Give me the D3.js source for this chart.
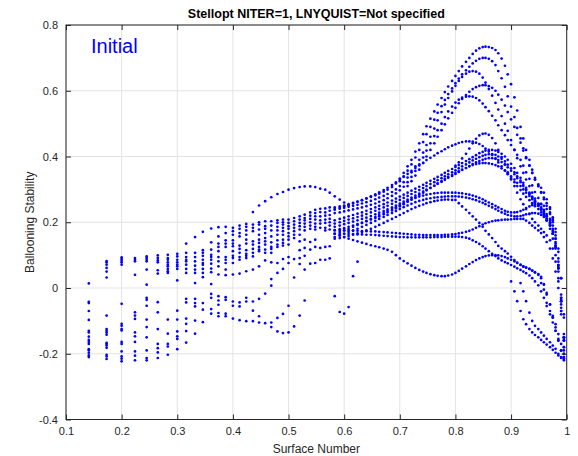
<!DOCTYPE html>
<html>
<head>
<meta charset="utf-8">
<script src="https://cdn.jsdelivr.net/npm/d3@7"></script>
<style>
  html, body { margin: 0; padding: 0; background: #ffffff; }
  svg { display: block; font-family: "Liberation Sans", Arial, Helvetica, sans-serif; }
</style>
</head>
<body>
<svg id="chart" width="578" height="456"></svg>
<script>
// ---- axis ticks ----
const xTicks = [0.1, 0.2, 0.3, 0.4, 0.5, 0.6, 0.7, 0.8, 0.9, 1];
const yTicks = [-0.4, -0.2, 0, 0.2, 0.4, 0.6, 0.8];

// ---- inner surfaces: one list of ballooning values per surface ----
const innerSurfaces = [0.141, 0.173, 0.2, 0.224, 0.245, 0.265, 0.283, 0.3, 0.316, 0.332,
  0.346, 0.361, 0.374, 0.387, 0.4, 0.412, 0.424, 0.436, 0.447, 0.458,
  0.469, 0.48, 0.49, 0.5, 0.51, 0.52, 0.529, 0.539, 0.548, 0.557, 0.566, 0.574];

const innerValues = [
  [0.014, -0.042, -0.046, -0.07, -0.097, -0.13, -0.135, -0.148, -0.158, -0.164, -0.17, -0.186, -0.19, -0.197, -0.205, -0.21],
  [0.082, 0.078, 0.071, 0.061, 0.05, 0.032, -0.084, -0.125, -0.13, -0.135, -0.142, -0.167, -0.17, -0.175, -0.182, -0.203, -0.208, -0.216],
  [0.093, 0.088, 0.083, 0.078, 0.071, -0.048, -0.109, -0.115, -0.125, -0.129, -0.164, -0.17, -0.193, -0.208, -0.215, -0.223],
  [0.091, 0.086, 0.081, 0.04, -0.074, -0.084, -0.094, -0.135, -0.147, -0.164, -0.193, -0.206, -0.22],
  [0.096, 0.091, 0.086, 0.081, 0.056, 0.01, -0.03, -0.036, -0.054, -0.096, -0.119, -0.15, -0.19, -0.213, -0.22],
  [0.099, 0.091, 0.084, 0.078, 0.054, 0.044, -0.043, -0.074, -0.125, -0.17, -0.183, -0.196, -0.213],
  [0.101, 0.091, 0.086, 0.078, 0.071, 0.066, 0.058, 0.051, 0.046, -0.096, -0.139, -0.17, -0.178, -0.203],
  [0.104, 0.096, 0.086, 0.078, 0.071, 0.066, 0.058, 0.023, -0.069, -0.096, -0.132, -0.147, -0.155, -0.186],
  [0.135, 0.107, 0.094, 0.086, 0.081, 0.071, 0.058, 0.046, -0.033, -0.044, -0.093, -0.109, -0.131, -0.166],
  [0.155, 0.107, 0.094, 0.081, 0.068, 0.056, 0.046, 0.015, -0.033, -0.046, -0.056, -0.099, -0.139],
  [0.171, 0.115, 0.107, 0.098, 0.086, 0.076, 0.071, 0.058, 0.046, 0.033, -0.046, -0.066, -0.104],
  [0.181, 0.139, 0.117, 0.101, 0.094, 0.086, 0.074, 0.059, 0.048, 0.012, -0.018, -0.03, -0.064, -0.078],
  [0.185, 0.157, 0.135, 0.125, 0.112, 0.094, 0.081, 0.066, 0.041, -0.025, -0.038, -0.051, -0.076, -0.086],
  [0.186, 0.167, 0.145, 0.135, 0.125, 0.094, 0.086, 0.076, 0.056, 0.039, -0.028, -0.036, -0.078, -0.086],
  [0.183, 0.173, 0.162, 0.145, 0.135, 0.127, 0.112, 0.098, 0.091, 0.076, 0.041, -0.041, -0.054, -0.093],
  [0.19, 0.18, 0.167, 0.157, 0.129, 0.119, 0.107, 0.094, 0.086, 0.044, -0.044, -0.056, -0.098],
  [0.195, 0.186, 0.175, 0.162, 0.147, 0.135, 0.115, 0.104, 0.098, 0.091, 0.051, -0.03, -0.041, -0.101],
  [0.231, 0.193, 0.183, 0.173, 0.142, 0.132, 0.119, 0.107, 0.096, 0.056, -0.041, -0.069, -0.101],
  [0.251, 0.2, 0.193, 0.178, 0.162, 0.147, 0.137, 0.125, 0.117, 0.112, 0.066, -0.033, -0.086, -0.105],
  [0.264, 0.203, 0.188, 0.18, 0.167, 0.152, 0.142, 0.132, 0.117, 0.107, 0.084, -0.017, -0.107],
  [0.276, 0.203, 0.19, 0.175, 0.157, 0.139, 0.125, 0.119, 0.107, 0.078, 0.027, 0.007, -0.105, -0.119],
  [0.286, 0.206, 0.198, 0.186, 0.175, 0.162, 0.145, 0.132, 0.125, 0.076, 0.046, -0.091, -0.132],
  [0.292, 0.208, 0.2, 0.193, 0.183, 0.173, 0.162, 0.147, 0.137, 0.129, 0.088, 0.058, -0.079, -0.137],
  [0.299, 0.208, 0.198, 0.188, 0.18, 0.167, 0.157, 0.147, 0.132, 0.094, 0.076, -0.054, -0.135],
  [0.304, 0.213, 0.203, 0.193, 0.183, 0.173, 0.162, 0.152, 0.088, 0.032, -0.117],
  [0.307, 0.218, 0.208, 0.198, 0.188, 0.178, 0.162, 0.142, 0.115, 0.091, 0.073, -0.084],
  [0.309, 0.223, 0.213, 0.206, 0.196, 0.186, 0.175, 0.147, 0.122, 0.098, 0.056, -0.038],
  [0.309, 0.23, 0.22, 0.21, 0.2, 0.19, 0.18, 0.14, 0.117, 0.074],
  [0.307, 0.238, 0.228, 0.218, 0.208, 0.196, 0.186, 0.178, 0.147, 0.125, 0.076],
  [0.302, 0.241, 0.231, 0.218, 0.206, 0.196, 0.183, 0.122, 0.086],
  [0.299, 0.242, 0.23, 0.22, 0.208, 0.198, 0.183, 0.175, 0.125, 0.086],
  [0.29, 0.245, 0.235, 0.222, 0.21, 0.2, 0.19, 0.178, 0.127, 0.09]
];

// ---- outer surfaces: field-line branches traced surface by surface ----
const outerSurfaces = [0.583, 0.592, 0.600, 0.608, 0.616, 0.624, 0.632, 0.640, 0.648, 0.656,
  0.663, 0.671, 0.678, 0.686, 0.693, 0.700, 0.707, 0.714, 0.721, 0.728,
  0.735, 0.742, 0.748, 0.755, 0.762, 0.768, 0.775, 0.781, 0.787, 0.794,
  0.800, 0.806, 0.812, 0.819, 0.825, 0.831, 0.837, 0.843, 0.849, 0.854,
  0.860, 0.866, 0.872, 0.877, 0.883, 0.889, 0.894, 0.900, 0.906, 0.911,
  0.917, 0.922, 0.927, 0.933, 0.938, 0.943, 0.949, 0.954, 0.959, 0.964,
  0.970, 0.975, 0.980, 0.985, 0.990, 0.995];

const arch1 = [0.245, 0.248, 0.251, 0.255, 0.259, 0.263, 0.267, 0.272, 0.277, 0.282,
  0.287, 0.293, 0.299, 0.307, 0.318, 0.333, 0.35, 0.37, 0.39, 0.415,
  0.44, 0.468, 0.492, 0.515, 0.537, 0.558, 0.578, 0.596, 0.613, 0.63,
  0.645, 0.66, 0.674, 0.688, 0.70, 0.712, 0.722, 0.729, 0.733, 0.734,
  0.733, 0.73, 0.724, 0.714, 0.698, 0.676, 0.65, 0.62, 0.58, 0.54,
  0.49, 0.455, 0.42, 0.39, 0.36, 0.335, 0.315, 0.305, 0.29, 0.27,
  0.245, 0.21, 0.15, 0.07, -0.05, -0.19];
const arch2 = [0.238, 0.241, 0.244, 0.247, 0.25, 0.253, 0.257, 0.261, 0.265, 0.27,
  0.275, 0.28, 0.286, 0.292, 0.30, 0.31, 0.322, 0.336, 0.352, 0.37,
  0.39, 0.412, 0.435, 0.46, 0.485, 0.51, 0.535, 0.558, 0.578, 0.598,
  0.615, 0.63, 0.642, 0.652, 0.658, 0.66, 0.658, 0.652, 0.64, 0.625,
  0.605, 0.585, 0.563, 0.543, 0.523, 0.50, 0.478, 0.45, 0.42, 0.395,
  0.37, 0.35, 0.33, 0.31, 0.29, 0.272, 0.256, 0.24, 0.224, 0.205,
  0.18, 0.15, 0.10, 0.03, -0.07, -0.18];
const arch3 = [0.228, 0.23, 0.233, 0.236, 0.239, 0.242, 0.245, 0.249, 0.253, 0.257,
  0.262, 0.267, 0.273, 0.28, 0.288, 0.297, 0.308, 0.322, 0.338, 0.356,
  0.376, 0.397, 0.418, 0.44, 0.462, 0.48, 0.5, 0.52, 0.537, 0.552,
  0.564, 0.573, 0.579, 0.582, 0.583, 0.582, 0.578, 0.571, 0.561, 0.55,
  0.538, 0.524, 0.51, 0.495, 0.48, 0.465, 0.45, 0.435, 0.42, 0.405,
  0.39, 0.372, 0.352, 0.332, 0.312, 0.292, 0.274, 0.256, 0.238, 0.218,
  0.195, 0.165, 0.12, 0.05, -0.06, -0.18];
const arch4 = [0.24, 0.244, 0.248, 0.252, 0.257, 0.262, 0.267, 0.273, 0.279, 0.285,
  0.291, 0.298, 0.305, 0.313, 0.321, 0.33, 0.338, 0.347, 0.356, 0.365,
  0.373, 0.381, 0.389, 0.396, 0.403, 0.41, 0.416, 0.422, 0.428, 0.433,
  0.437, 0.441, 0.444, 0.446, 0.446, 0.445, 0.442, 0.438, 0.432, 0.424,
  0.415, 0.405, 0.394, 0.382, 0.37, 0.358, 0.346, 0.334, 0.322, 0.31,
  0.298, 0.287, 0.277, 0.267, 0.258, 0.249, 0.24, 0.23, 0.22, 0.207,
  0.19, 0.165, 0.125, 0.06, -0.04, -0.16];
const band5 = [0.206, 0.21, 0.214, 0.218, 0.222, 0.226, 0.23, 0.235, 0.24, 0.245,
  0.25, 0.255, 0.26, 0.266, 0.272, 0.278, 0.284, 0.29, 0.296, 0.302,
  0.308, 0.314, 0.32, 0.326, 0.332, 0.338, 0.344, 0.35, 0.356, 0.362,
  0.368, 0.374, 0.38, 0.386, 0.392, 0.398, 0.404, 0.41, 0.414, 0.418,
  0.42, 0.42, 0.418, 0.414, 0.408, 0.40, 0.39, 0.378, 0.365, 0.35,
  0.335, 0.32, 0.305, 0.29, 0.278, 0.266, 0.255, 0.245, 0.235, 0.225,
  0.21, 0.19, 0.15, 0.08, -0.03, -0.15];
const band6 = [0.196, 0.2, 0.204, 0.208, 0.212, 0.216, 0.22, 0.225, 0.23, 0.235,
  0.24, 0.245, 0.25, 0.256, 0.262, 0.268, 0.274, 0.28, 0.286, 0.292,
  0.298, 0.304, 0.31, 0.316, 0.322, 0.328, 0.334, 0.34, 0.346, 0.352,
  0.358, 0.364, 0.37, 0.376, 0.382, 0.388, 0.393, 0.398, 0.402, 0.405,
  0.407, 0.407, 0.405, 0.40, 0.393, 0.385, 0.375, 0.364, 0.352, 0.34,
  0.327, 0.313, 0.30, 0.287, 0.275, 0.263, 0.252, 0.242, 0.232, 0.22,
  0.205, 0.18, 0.14, 0.07, -0.03, -0.15];
const band7 = [0.186, 0.19, 0.194, 0.198, 0.202, 0.206, 0.21, 0.214, 0.219, 0.224,
  0.229, 0.234, 0.239, 0.245, 0.251, 0.257, 0.263, 0.269, 0.275, 0.281,
  0.287, 0.293, 0.299, 0.305, 0.311, 0.317, 0.323, 0.329, 0.335, 0.341,
  0.347, 0.353, 0.359, 0.365, 0.371, 0.377, 0.382, 0.386, 0.39, 0.393,
  0.395, 0.395, 0.393, 0.389, 0.383, 0.376, 0.367, 0.357, 0.346, 0.334,
  0.322, 0.31, 0.298, 0.286, 0.274, 0.262, 0.25, 0.238, 0.226, 0.212,
  0.195, 0.17, 0.13, 0.06, -0.04, -0.16];
const band8 = [0.176, 0.179, 0.182, 0.186, 0.19, 0.194, 0.198, 0.203, 0.208, 0.213,
  0.218, 0.224, 0.23, 0.236, 0.242, 0.248, 0.255, 0.262, 0.269, 0.276,
  0.283, 0.29, 0.297, 0.304, 0.311, 0.318, 0.325, 0.332, 0.338, 0.344,
  0.35, 0.355, 0.36, 0.365, 0.37, 0.374, 0.377, 0.379, 0.38, 0.38,
  0.379, 0.377, 0.374, 0.37, 0.364, 0.357, 0.349, 0.34, 0.33, 0.32,
  0.31, 0.30, 0.29, 0.28, 0.27, 0.26, 0.25, 0.24, 0.23, 0.218,
  0.20, 0.175, 0.135, 0.065, -0.035, -0.155];
const flat1 = [0.165, 0.17, 0.175, 0.18, 0.186, 0.192, 0.198, 0.204, 0.21, 0.216,
  0.222, 0.228, 0.234, 0.24, 0.246, 0.252, 0.258, 0.264, 0.269, 0.274,
  0.278, 0.281, 0.284, 0.286, 0.288, 0.289, 0.29, 0.29, 0.29, 0.29,
  0.29, 0.289, 0.288, 0.286, 0.284, 0.281, 0.278, 0.274, 0.27, 0.265,
  0.26, 0.255, 0.25, 0.245, 0.24, 0.235, 0.232, 0.23, 0.23, 0.231,
  0.234, 0.238, 0.243, 0.248, 0.252, 0.255, 0.256, 0.255, 0.25, 0.24,
  0.225, 0.20, 0.16, 0.09, -0.02, -0.14];
const flat2 = [0.155, 0.16, 0.165, 0.17, 0.175, 0.18, 0.186, 0.192, 0.198, 0.204,
  0.21, 0.216, 0.222, 0.228, 0.234, 0.24, 0.246, 0.251, 0.256, 0.261,
  0.265, 0.268, 0.271, 0.273, 0.275, 0.276, 0.277, 0.278, 0.279, 0.279,
  0.279, 0.278, 0.277, 0.275, 0.273, 0.27, 0.267, 0.263, 0.259, 0.255,
  0.25, 0.245, 0.24, 0.235, 0.23, 0.226, 0.222, 0.22, 0.218, 0.218,
  0.219, 0.221, 0.224, 0.226, 0.228, 0.228, 0.226, 0.222, 0.216, 0.206,
  0.19, 0.165, 0.125, 0.06, -0.04, -0.16];
const desc1 = [0.15, 0.152, 0.155, 0.158, 0.162, 0.166, 0.17, 0.175, 0.18, 0.186,
  0.192, 0.198, 0.204, 0.21, 0.216, 0.222, 0.228, 0.234, 0.24, 0.245,
  0.25, 0.254, 0.258, 0.261, 0.264, 0.266, 0.268, 0.269, 0.269, 0.268,
  0.268, 0.258, 0.248, 0.238, 0.228, 0.218, 0.208, 0.198, 0.186, 0.174,
  0.163, 0.152, 0.14, 0.128, 0.12, 0.112, 0.105, 0.095, 0.085, 0.077,
  0.07, 0.065, 0.062, 0.058, 0.053, 0.048, 0.042, 0.034, 0.01, -0.02,
  -0.05, -0.085, -0.12, -0.155, -0.19, -0.215];
const lowA = [0.175, 0.175, 0.175, 0.175, 0.174, 0.174, 0.173, 0.173, 0.172, 0.172,
  0.171, 0.17, 0.169, 0.168, 0.167, 0.166, 0.165, 0.164, 0.163, 0.162,
  0.162, 0.161, 0.161, 0.161, 0.161, 0.161, 0.161, 0.162, 0.162, 0.163,
  0.164, 0.166, 0.168, 0.171, 0.174, 0.178, 0.183, 0.188, 0.193, 0.197,
  0.20, 0.203, 0.205, 0.206, 0.207, 0.208, 0.208, 0.209, 0.21, 0.21,
  0.21, 0.21, 0.205, 0.198, 0.19, 0.183, 0.175, 0.167, 0.155, 0.14,
  0.12, 0.09, 0.05, 0.0, -0.07, -0.15];
const lowB = [0.165, 0.165, 0.165, 0.164, 0.164, 0.163, 0.163, 0.162, 0.162, 0.161,
  0.16, 0.159, 0.158, 0.157, 0.156, 0.155, 0.155, 0.154, 0.154, 0.154,
  0.154, 0.154, 0.154, 0.154, 0.155, 0.155, 0.155, 0.156, 0.156, 0.156,
  0.156, 0.156, 0.155, 0.153, 0.15, 0.145, 0.14, 0.134, 0.127, 0.12,
  0.112, 0.104, 0.097, 0.09, 0.084, 0.079, 0.075, 0.07, 0.065, 0.06,
  0.055, 0.05, 0.045, 0.038, 0.03, 0.02, 0.008, -0.01, -0.03, -0.055,
  -0.08, -0.105, -0.13, -0.16, -0.19, -0.21];
const dipCurve = [0.165, 0.16, 0.155, 0.15, 0.146, 0.142, 0.138, 0.134, 0.13, 0.127,
  0.124, 0.12, 0.116, 0.11, 0.10, 0.09, 0.082, 0.075, 0.068, 0.061,
  0.055, 0.05, 0.046, 0.042, 0.039, 0.037, 0.036, 0.036, 0.038, 0.041,
  0.046, 0.052, 0.059, 0.066, 0.073, 0.079, 0.085, 0.09, 0.094, 0.097,
  0.099, 0.10, 0.10, 0.099, 0.097, 0.094, 0.09, 0.086, 0.081, 0.076,
  0.071, 0.066, 0.062, 0.058, 0.053, 0.047, 0.04, 0.03, 0.012, -0.015,
  -0.05, -0.09, -0.13, -0.16, -0.19, -0.21];

// short branches: first outer-surface index followed by values
const archB = [15, 0.325, 0.34, 0.357, 0.376, 0.397, 0.42,
  0.444, 0.468, 0.49, 0.512, 0.533, 0.553, 0.572, 0.59, 0.607, 0.623,
  0.637, 0.65, 0.662, 0.673, 0.683, 0.691, 0.697, 0.70, 0.70, 0.697,
  0.69, 0.678, 0.66, 0.638, 0.612, 0.583, 0.552, 0.52, 0.487, 0.455,
  0.425, 0.398, 0.373, 0.35, 0.33, 0.31, 0.292, 0.275, 0.258, 0.24,
  0.215, 0.18, 0.12, 0.03, -0.09];
const archC = [17, 0.31, 0.325, 0.342, 0.36,
  0.38, 0.40, 0.42, 0.44, 0.46, 0.48, 0.498, 0.516, 0.533, 0.548,
  0.562, 0.575, 0.587, 0.597, 0.605, 0.611, 0.615, 0.617, 0.617, 0.614,
  0.609, 0.60, 0.588, 0.573, 0.555, 0.535, 0.513, 0.49, 0.466, 0.442,
  0.418, 0.395, 0.372, 0.35, 0.33, 0.31, 0.29, 0.27, 0.25, 0.23,
  0.205, 0.17, 0.11, 0.03, -0.08];
const arch5 = [30, 0.372, 0.382, 0.394, 0.408, 0.424, 0.44, 0.454, 0.464, 0.469, 0.47,
  0.466, 0.456, 0.44, 0.42, 0.398, 0.375, 0.352, 0.33, 0.31, 0.29,
  0.27, 0.255, 0.24, 0.225, 0.21, 0.20, 0.19, 0.18, 0.17, 0.16,
  0.145, 0.12, 0.08, 0.02, -0.08, -0.2];
const edge1 = [47, 0.02, -0.01, -0.04, -0.07, -0.095, -0.11, -0.125, -0.135, -0.143, -0.15,
  -0.158, -0.165, -0.172, -0.18, -0.188, -0.197, -0.205, -0.213, -0.22];
const edge2 = [50, 0.015, -0.01, -0.04, -0.075, -0.10, -0.115, -0.125, -0.135, -0.145, -0.155,
  -0.165, -0.175, -0.185, -0.20, -0.21, -0.215];
const edge3 = [57, 0.015, -0.005, -0.045, -0.07, -0.09, -0.11, -0.14, -0.17, -0.20];
const humpTail = [0, 0.279, 0.269, 0.26];
const lowTail = [0, -0.025, -0.073, -0.078, -0.058, 0.036, 0.08];

const fullBranches = [arch1, arch2, arch3, arch4, band5, band6, band7, band8,
  flat1, flat2, desc1, lowA, lowB, dipCurve];
const shortBranches = [archB, archC, arch5, edge1, edge2, edge3, humpTail, lowTail];

// ---- assemble point list ----
const points = [];
innerSurfaces.forEach((s, i) => innerValues[i].forEach(v => points.push([s, v])));
fullBranches.forEach(b => b.forEach((v, i) => points.push([outerSurfaces[i], v])));
shortBranches.forEach(b => {
  const start = b[0];
  b.slice(1).forEach((v, i) => points.push([outerSurfaces[start + i], v]));
});

// ---- layout ----
const svg = d3.select("#chart");
const plotL = 66, plotR = 566.7, plotT = 25, plotB = 419.5;
const x = d3.scaleLinear().domain([0.1, 1]).range([plotL, plotR]);
const y = d3.scaleLinear().domain([-0.4, 0.8]).range([plotB, plotT]);
const ink = "#262626";

svg.append("rect").attr("x", 0).attr("y", 0).attr("width", 578).attr("height", 456).attr("fill", "#fff");

// grid
const grid = svg.append("g").attr("stroke", "#e3e3e3").attr("stroke-width", 1);
xTicks.forEach(t => grid.append("line").attr("x1", x(t)).attr("x2", x(t)).attr("y1", plotT).attr("y2", plotB));
yTicks.forEach(t => grid.append("line").attr("x1", plotL).attr("x2", plotR).attr("y1", y(t)).attr("y2", y(t)));

// points
svg.append("g").attr("fill", "#0000ff")
  .selectAll("circle").data(points).join("circle")
  .attr("cx", d => x(d[0])).attr("cy", d => y(d[1])).attr("r", 1.35);

// axes (ticks pointing inward on all sides)
const fmt = d => String(+d.toFixed(1));
function styleAxis(g) {
  g.select(".domain").remove();
  g.selectAll(".tick line").attr("stroke", ink);
  g.selectAll(".tick text").attr("fill", ink).attr("font-size", 11)
    .attr("font-family", "'Liberation Sans', Arial, sans-serif");
}
svg.append("g").attr("transform", `translate(0,${plotB})`)
  .call(d3.axisBottom(x).tickValues(xTicks).tickFormat(fmt).tickSizeInner(-5).tickSizeOuter(0).tickPadding(8))
  .call(styleAxis);
svg.append("g").attr("transform", `translate(0,${plotT})`)
  .call(d3.axisTop(x).tickValues(xTicks).tickFormat("").tickSizeInner(-5).tickSizeOuter(0))
  .call(styleAxis);
svg.append("g").attr("transform", `translate(${plotL},0)`)
  .call(d3.axisLeft(y).tickValues(yTicks).tickFormat(fmt).tickSizeInner(-5).tickSizeOuter(0).tickPadding(8))
  .call(styleAxis);
svg.append("g").attr("transform", `translate(${plotR},0)`)
  .call(d3.axisRight(y).tickValues(yTicks).tickFormat("").tickSizeInner(-5).tickSizeOuter(0))
  .call(styleAxis);

// frame
svg.append("rect").attr("x", plotL).attr("y", plotT).attr("width", plotR - plotL).attr("height", plotB - plotT)
  .attr("fill", "none").attr("stroke", ink).attr("stroke-width", 1);

// titles and labels
svg.append("text").attr("x", (plotL + plotR) / 2).attr("y", 18).attr("text-anchor", "middle")
  .attr("font-size", 12.5).attr("font-weight", "bold").attr("fill", "#000")
  .text("Stellopt NITER=1, LNYQUIST=Not specified");
svg.append("text").attr("x", (plotL + plotR) / 2).attr("y", 453).attr("text-anchor", "middle")
  .attr("font-size", 12).attr("fill", ink).text("Surface Number");
svg.append("text").attr("transform", `translate(34,${(plotT + plotB) / 2}) rotate(-90)`)
  .attr("text-anchor", "middle").attr("font-size", 12).attr("fill", ink).text("Ballooning Stability");
svg.append("text").attr("x", 91).attr("y", 53).attr("font-size", 20).attr("fill", "#0000ff").text("Initial");
</script>
</body>
</html>
